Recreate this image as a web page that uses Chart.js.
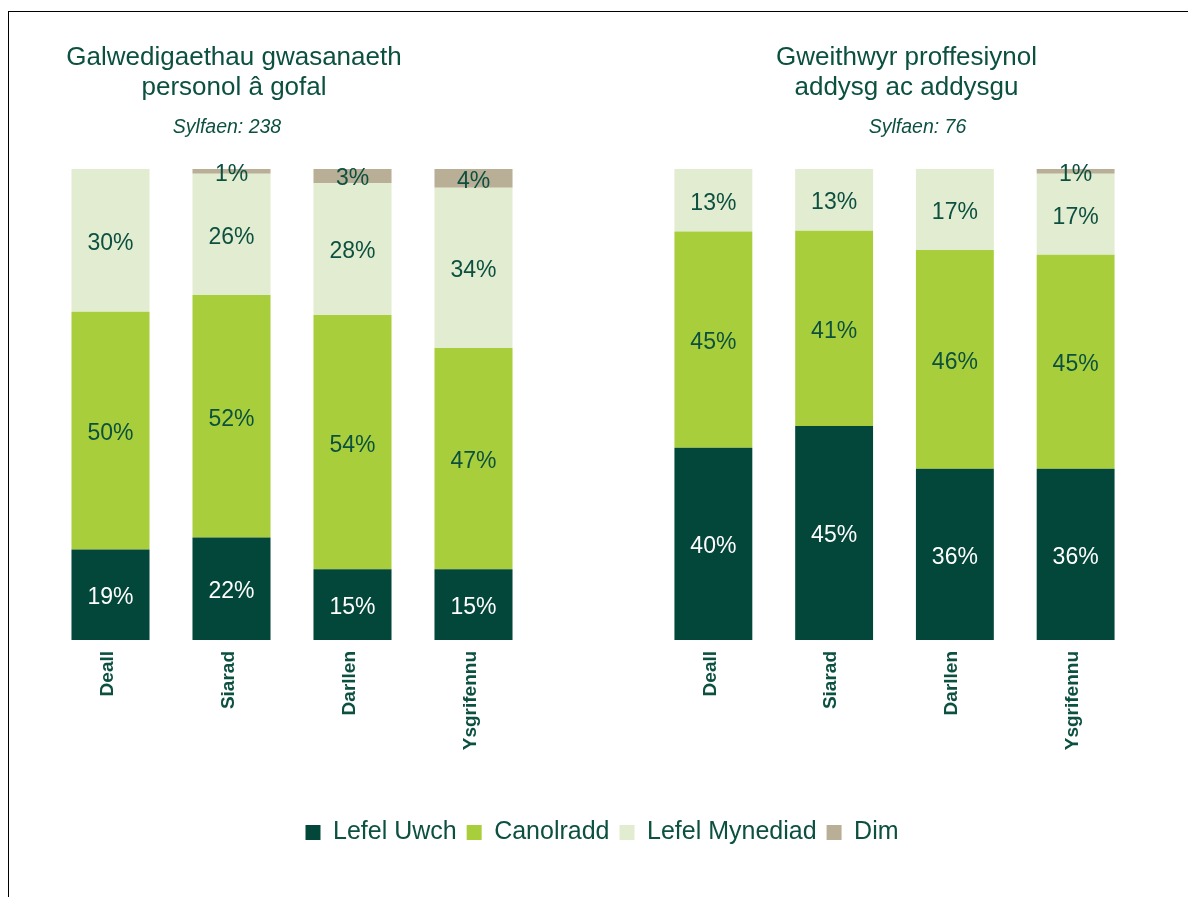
<!DOCTYPE html>
<html>
<head>
<meta charset="utf-8">
<script src="https://cdn.jsdelivr.net/npm/chart.js@4.4.1/dist/chart.umd.min.js"></script>
<style>
  html, body { margin: 0; padding: 0; background: #ffffff; overflow: hidden; }
  #page { position: relative; width: 1188px; height: 897px; overflow: hidden; background: #fff; }
  #frame { position: absolute; left: 8px; top: 11px; width: 1300px; height: 1000px;
           border-left: 1.5px solid #000; border-top: 1.5px solid #000; }
  #c1 { position: absolute; left: 8px; top: 0; }
  #c2 { position: absolute; left: 560px; top: 0; }
</style>
</head>
<body>
<div id="page">
  <div id="frame"></div>
  <canvas id="c1" width="1180" height="897"></canvas>
  <canvas id="c2" width="628" height="897"></canvas>
</div>
<script>
// ---------- data ----------
const categories = ['Deall', 'Siarad', 'Darllen', 'Ysgrifennu'];
const seriesNames = ['Lefel Uwch', 'Canolradd', 'Lefel Mynediad', 'Dim'];

const careTitle = ['Galwedigaethau gwasanaeth', 'personol â gofal'];
const careBase = 'Sylfaen: 238';
const careUwch = [19, 22, 15, 15];
const careCanolradd = [50, 52, 54, 47];
const careMynediad = [30, 26, 28, 34];
const careDim = [0, 1, 3, 4];

const eduTitle = ['Gweithwyr proffesiynol', 'addysg ac addysgu'];
const eduBase = 'Sylfaen: 76';
const eduUwch = [40, 45, 36, 36];
const eduCanolradd = [45, 41, 46, 45];
const eduMynediad = [13, 13, 17, 17];
const eduDim = [0, 0, 0, 1];

// ---------- styles ----------
const seriesColors = ['#02473a', '#a8cf3b', '#e2ecd0', '#b8af96'];
const labelColors = ['#ffffff', '#0c5040', '#0c5040', '#0c5040'];
const textColor = '#0c5040';
const FONT = '"Liberation Sans", Arial, Helvetica, sans-serif';

// 100% stacked: each bar is shown as share of its category total
function buildDatasets(seriesList) {
  const totals = categories.map((_, i) => seriesList.reduce((s, arr) => s + arr[i], 0));
  return seriesList.map((arr, k) => ({
    label: seriesNames[k],
    data: arr.map((v, i) => v / totals[i] * 100),
    rawValues: arr,
    labelColor: labelColors[k],
    backgroundColor: seriesColors[k],
    borderWidth: 0,
    categoryPercentage: 1.0,
    barPercentage: 0.645
  }));
}

const barLabels = {
  id: 'barLabels',
  afterDatasetsDraw(chart, args, opts) {
    const ctx = chart.ctx;
    ctx.save();
    ctx.font = opts.font;
    ctx.textAlign = 'center';
    ctx.textBaseline = 'middle';
    chart.data.datasets.forEach((ds, di) => {
      const meta = chart.getDatasetMeta(di);
      if (meta.hidden) return;
      meta.data.forEach((bar, i) => {
        const v = ds.rawValues[i];
        if (!v) return;
        const p = bar.getProps(['x', 'y', 'base'], true);
        ctx.fillStyle = ds.labelColor;
        ctx.fillText(v + '%', p.x, (p.y + p.base) / 2 + opts.shift);
      });
    });
    ctx.restore();
  }
};

const panelTitle = {
  id: 'panelTitle',
  afterDraw(chart, args, o) {
    const ctx = chart.ctx;
    ctx.save();
    ctx.fillStyle = o.color;
    ctx.textAlign = 'center';
    ctx.textBaseline = 'alphabetic';
    ctx.font = o.font;
    o.lines.forEach((t, k) => ctx.fillText(t, o.x, o.y + k * o.lineHeight));
    ctx.font = o.subFont;
    ctx.fillText(o.subtitle, o.subX, o.subY);
    ctx.restore();
  }
};

function makeOptions(cfg) {
  return {
    responsive: false,
    devicePixelRatio: 1,
    animation: false,
    events: [],
    layout: { padding: cfg.padding },
    scales: {
      x: {
        stacked: true,
        offset: true,
        grid: { display: false },
        border: { display: false },
        ticks: {
          color: textColor,
          font: { family: FONT, size: 19, weight: 'bold' },
          maxRotation: 90, minRotation: 90,
          padding: 3,
          labelOffset: -3,
          autoSkip: false
        },
        afterFit: s => { s.height = cfg.xHeight; }
      },
      y: Object.assign({
        stacked: true,
        min: 0, max: 100,
        grid: { display: false },
        border: { display: false },
        ticks: { display: false }
      }, cfg.yExtra)
    },
    plugins: {
      legend: cfg.legend,
      tooltip: { enabled: false },
      title: { display: false },
      barLabels: { font: '23px ' + FONT, shift: 3 },
      panelTitle: {
        lines: cfg.title, subtitle: cfg.sub,
        x: cfg.titleX, y: 65, lineHeight: 30,
        subX: cfg.subX, subY: 133,
        font: '26px ' + FONT,
        subFont: 'italic 19.5px ' + FONT,
        color: textColor
      }
    }
  };
}

new Chart(document.getElementById('c1'), {
  type: 'bar',
  data: { labels: categories, datasets: buildDatasets([careUwch, careCanolradd, careMynediad, careDim]) },
  options: makeOptions({
    padding: { left: 42, right: 34, top: 169, bottom: 42 },
    xHeight: 170,
    yExtra: { display: true, position: 'right', afterFit: s => { s.width = 620; } },
    legend: {
      display: true,
      position: 'bottom',
      labels: {
        color: textColor,
        font: { family: FONT, size: 25 },
        boxWidth: 15, boxHeight: 15,
        padding: 10
      }
    },
    title: careTitle, sub: careBase,
    titleX: 226, subX: 219
  }),
  plugins: [barLabels, panelTitle]
});

new Chart(document.getElementById('c2'), {
  type: 'bar',
  data: { labels: categories, datasets: buildDatasets([eduUwch, eduCanolradd, eduMynediad, eduDim]) },
  options: makeOptions({
    padding: { left: 93, right: 52, top: 169, bottom: 89 },
    xHeight: 168,
    yExtra: { display: false },
    legend: { display: false },
    title: eduTitle, sub: eduBase,
    titleX: 346.5, subX: 357.5
  }),
  plugins: [barLabels, panelTitle]
});
</script>
</body>
</html>
